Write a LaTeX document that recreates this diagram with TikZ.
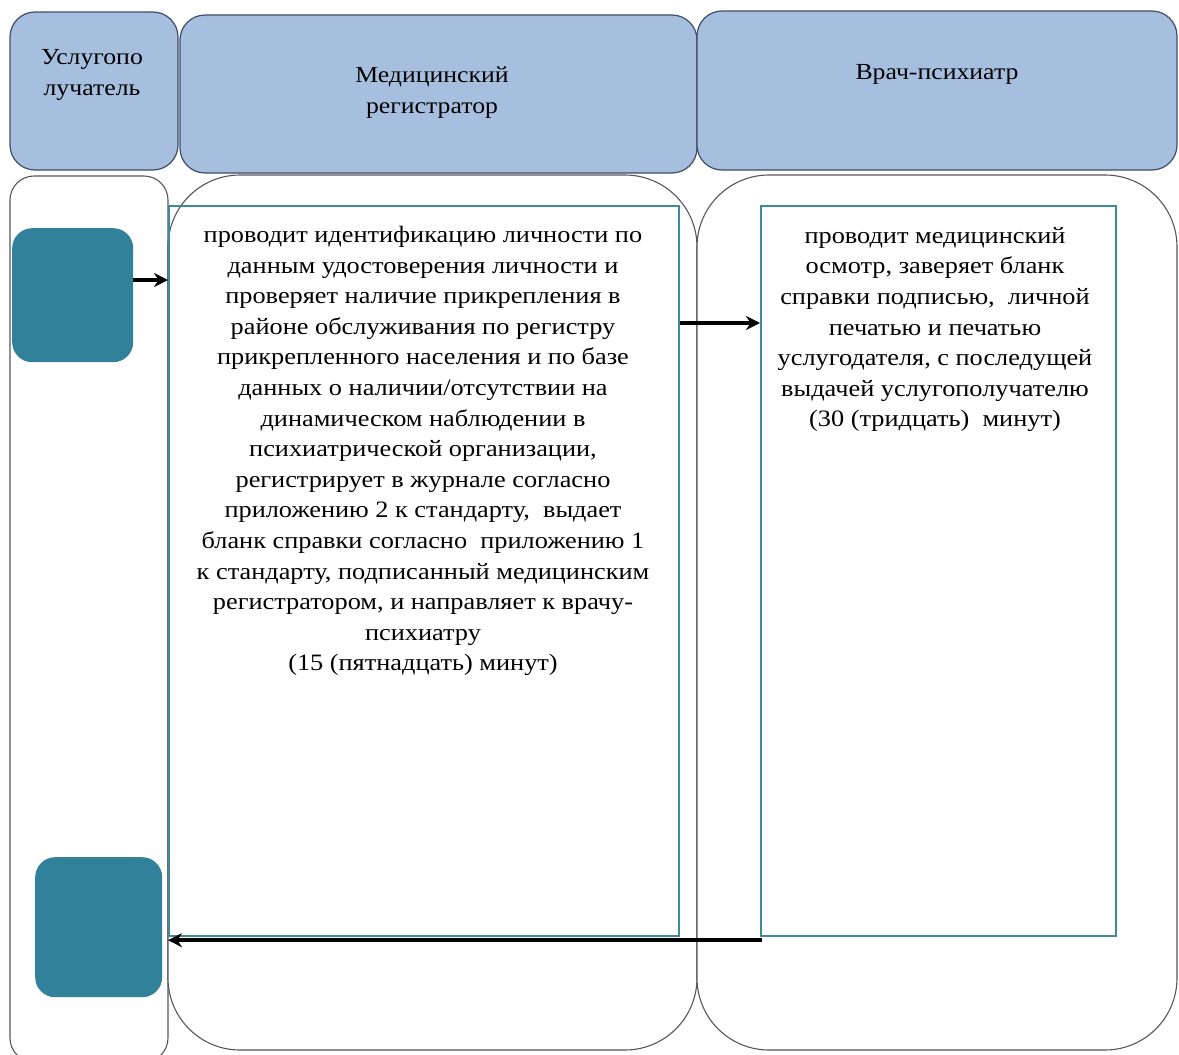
\documentclass[tikz,border=0pt]{standalone}
\usepackage{fontspec}
\setmainfont[FakeStretch=1.12]{Liberation Serif}
\usetikzlibrary{arrows.meta}
\definecolor{hdrfill}{HTML}{A7BFDE}
\definecolor{hdrline}{HTML}{3E4C6A}
\definecolor{laneline}{HTML}{55575E}
\definecolor{tealfill}{HTML}{31819A}
\definecolor{boxline}{HTML}{3F8A9A}
\tikzset{
  hdr/.style={draw=hdrline, line width=1.2pt, fill=hdrfill, rounded corners=25pt},
  lane/.style={draw=laneline, line width=1.1pt, fill=white},
  actbox/.style={draw=boxline, line width=2.2pt},
  tealbox/.style={fill=tealfill, rounded corners=20pt},
  flow/.style={line width=4pt, -{Stealth[length=14pt,width=14pt]}},
  hdrtext/.style={font=\fontsize{23}{31}\selectfont, align=center, text=black},
  bodytext/.style={font=\fontsize{23.5}{30.6}\selectfont, align=center, text=black, inner sep=0pt}
}
\begin{document}
\begin{tikzpicture}[x=1pt,y=-1pt]
\useasboundingbox (0,0) rectangle (1179,1055);
\fill[white] (0,0) rectangle (1179,1055);
% headers
\draw[hdr] (10,12) rectangle (178,170);
\draw[hdr] (180,15) rectangle (697,173);
\draw[hdr] (697,11) rectangle (1177,170);
\node[hdrtext] (h1) at (92,75) {Услугопо\\лучатель};
\node[hdrtext] (h2) at (432,93) {Медицинский\\регистратор};
\node[hdrtext] (h3) at (937,74) {Врач-психиатр};
% lanes
\draw[lane, rounded corners=24pt] (10,176) rectangle (168,1062);
\draw[lane, rounded corners=72pt] (168,175) rectangle (697,1050);
\draw[lane, rounded corners=72pt] (697,175) rectangle (1177,1050);
% action boxes
\node[actbox, anchor=north west, minimum width=510pt, minimum height=730pt, inner sep=0pt] (b1) at (168,205) {};
\node[actbox, anchor=north west, minimum width=355pt, minimum height=730pt, inner sep=0pt] (b2) at (760,205) {};
\node[bodytext, anchor=north] (t1) at (423,226) {проводит идентификацию личности по\\данным удостоверения личности и\\проверяет наличие прикрепления в\\районе обслуживания по регистру\\прикрепленного населения и по базе\\данных о наличии/отсутствии на\\динамическом наблюдении в\\психиатрической организации,\\регистрирует в журнале согласно\\приложению 2 к стандарту,\ \ выдает\\бланк справки согласно\ \ приложению 1\\к стандарту, подписанный медицинским\\регистратором, и направляет к врачу-\\психиатру\\(15 (пятнадцать) минут)};
\node[bodytext, anchor=north] (t2) at (935,227) {проводит медицинский\\осмотр, заверяет бланк\\справки подписью,\ \ личной\\печатью и печатью\\услугодателя, с последущей\\выдачей услугополучателю\\(30 (тридцать)\ \ минут)};
% teal terminals
\node[tealbox, anchor=north west, minimum width=121pt, minimum height=134pt, inner sep=0pt] (s1) at (12,228) {};
\node[tealbox, anchor=north west, minimum width=127pt, minimum height=140pt, inner sep=0pt] (s2) at (35,857) {};
% connectors
\coordinate (a1s) at (s1.east |- 0,280);
\coordinate (a1e) at (b1.west |- 0,280);
\draw[flow] (a1s) -- (a1e);
\coordinate (a2s) at (b1.east |- 0,323);
\coordinate (a2e) at (b2.west |- 0,323);
\draw[flow] (a2s) -- (a2e);
\coordinate (a3s) at (b2.south west);
\coordinate (a3e) at (b1.south west);
\draw[flow] ([xshift=2pt,yshift=-3pt]a3s) -- ([yshift=-3pt]a3e);
\end{tikzpicture}
\end{document}
